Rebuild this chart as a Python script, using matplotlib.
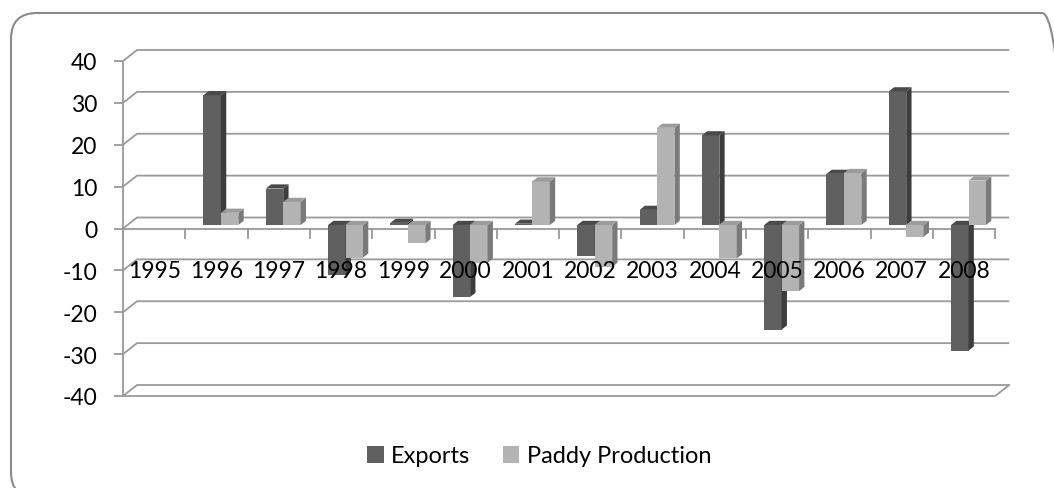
import matplotlib.pyplot as plt
from matplotlib.patches import Polygon, Patch, FancyBboxPatch
from matplotlib.transforms import IdentityTransform

# Annual growth (%) of rice exports and paddy production (no value for 1995)
years = ['1995', '1996', '1997', '1998', '1999', '2000', '2001',
         '2002', '2003', '2004', '2005', '2006', '2007', '2008']
exports = [None, 31, 8.7, -12, 0.5, -17.2, 0.3, -7.4, 3.6, 21.4, -25, 12.2, 31.9, -30]
paddy = [None, 2.9, 5.5, -7.8, -4.4, -9, 10.4, -10, 23.2, -8, -15.8, 12.4, -2.8, 10.6]

plt.rcParams['font.family'] = ['Lato', 'DejaVu Sans']
plt.rcParams['axes.unicode_minus'] = False
FS = 16.5

W, H = 1054, 489
fig = plt.figure(figsize=(W / 100, H / 100), dpi=100)

# plot area in pixels: front plane x from 123, one category every 62.3 px; y: +40 at 62, -40 at 397
px_cat = 62.3
px_unit = (397 - 62) / 80.0
left_px, right_px, top_px, bot_px = 123, 1014, 40, 397
ax = fig.add_axes([left_px / W, (H - bot_px) / H,
                   (right_px - left_px) / W, (bot_px - top_px) / H])
ax.set_xlim(-0.5, -0.5 + (right_px - left_px) / px_cat)
ax.set_ylim(-40, -40 + (bot_px - top_px) / px_unit)
ax.patch.set_alpha(0)

# depth of the 3d box in data units
DX = 14 / px_cat
DY = 11 / px_unit
n = len(years)
x0, x1 = -0.5, n - 0.5
grid_c = '#9a9a9a'
glw = 1.3

# back wall gridlines plus the left wall diagonals
for v in range(-40, 41, 10):
    ax.plot([x0, x0 + DX, x1 + DX], [v, v + DY, v + DY], color=grid_c, lw=glw,
            zorder=1, clip_on=False, solid_capstyle='butt')
# floor outline
ax.plot([x0, x1, x1 + DX], [-40, -40, -40 + DY], color=grid_c, lw=glw, zorder=1, clip_on=False)

# category axis at zero with tick marks between categories
tick_len = 9 / px_unit
ax.plot([x0, x1], [0, 0], color=grid_c, lw=glw, zorder=1.5, clip_on=False)
for i in range(n + 1):
    ax.plot([i - 0.5, i - 0.5], [0, -tick_len], color=grid_c, lw=glw, zorder=1.5, clip_on=False)
for i, yr in enumerate(years):
    ax.text(i, -10.1, yr, ha='center', va='center', fontsize=FS, color='black', zorder=10)

# value axis
for s in ['top', 'right', 'bottom']:
    ax.spines[s].set_visible(False)
ax.spines['left'].set_bounds(-40, 40)
ax.spines['left'].set_color(grid_c)
ax.spines['left'].set_linewidth(glw)
ax.set_yticks(range(-40, 41, 10))
ax.tick_params(axis='y', length=6.5, width=glw, color=grid_c, pad=12, labelsize=FS)
ax.set_xticks([])

# 3d columns
d0 = 0.32   # depth of the column front faces
dd = 0.38   # column depth
bw = 0.28
series = [
    (exports, -bw, '#606060', '#3d3d3d', '#4a4a4a', 'Exports'),
    (paddy, 0.0, '#b3b3b3', '#7a7a7a', '#9c9c9c', 'Paddy Production'),
]
ox, oy = d0 * DX, d0 * DY
sx, sy = dd * DX, dd * DY
for i in range(n):
    for vals, off, front, side, top, _ in series:
        v = vals[i]
        if v is None:
            continue
        xl = i + off + ox
        xr = xl + bw
        lo, hi = min(v, 0) + oy, max(v, 0) + oy
        ax.bar(xl, hi - lo, width=bw, bottom=lo, align='edge', color=front,
               lw=0, zorder=3, clip_on=False)
        ax.add_patch(Polygon([(xr, lo), (xr + sx, lo + sy), (xr + sx, hi + sy), (xr, hi)],
                             closed=True, facecolor=side, lw=0, zorder=3, clip_on=False))
        ax.add_patch(Polygon([(xl, hi), (xr, hi), (xr + sx, hi + sy), (xl + sx, hi + sy)],
                             closed=True, facecolor=top, lw=0, zorder=3, clip_on=False))

handles = [Patch(facecolor=s[2], label=s[5]) for s in series]
fig.legend(handles=handles, loc='center', bbox_to_anchor=(539 / W, 1 - 457 / H), ncol=2,
           frameon=False, fontsize=17, handlelength=0.7, handleheight=0.7,
           handletextpad=0.3, columnspacing=1.4)

# rounded chart border, right side runs past the canvas edge
border = FancyBboxPatch((11, -10), 1057, H - 14 + 10, boxstyle='round,pad=0,rounding_size=26',
                        transform=IdentityTransform(), facecolor='none',
                        edgecolor='#8a8a8a', lw=1.5)
fig.add_artist(border)

fig.savefig('out.png', dpi=100, facecolor='white')
